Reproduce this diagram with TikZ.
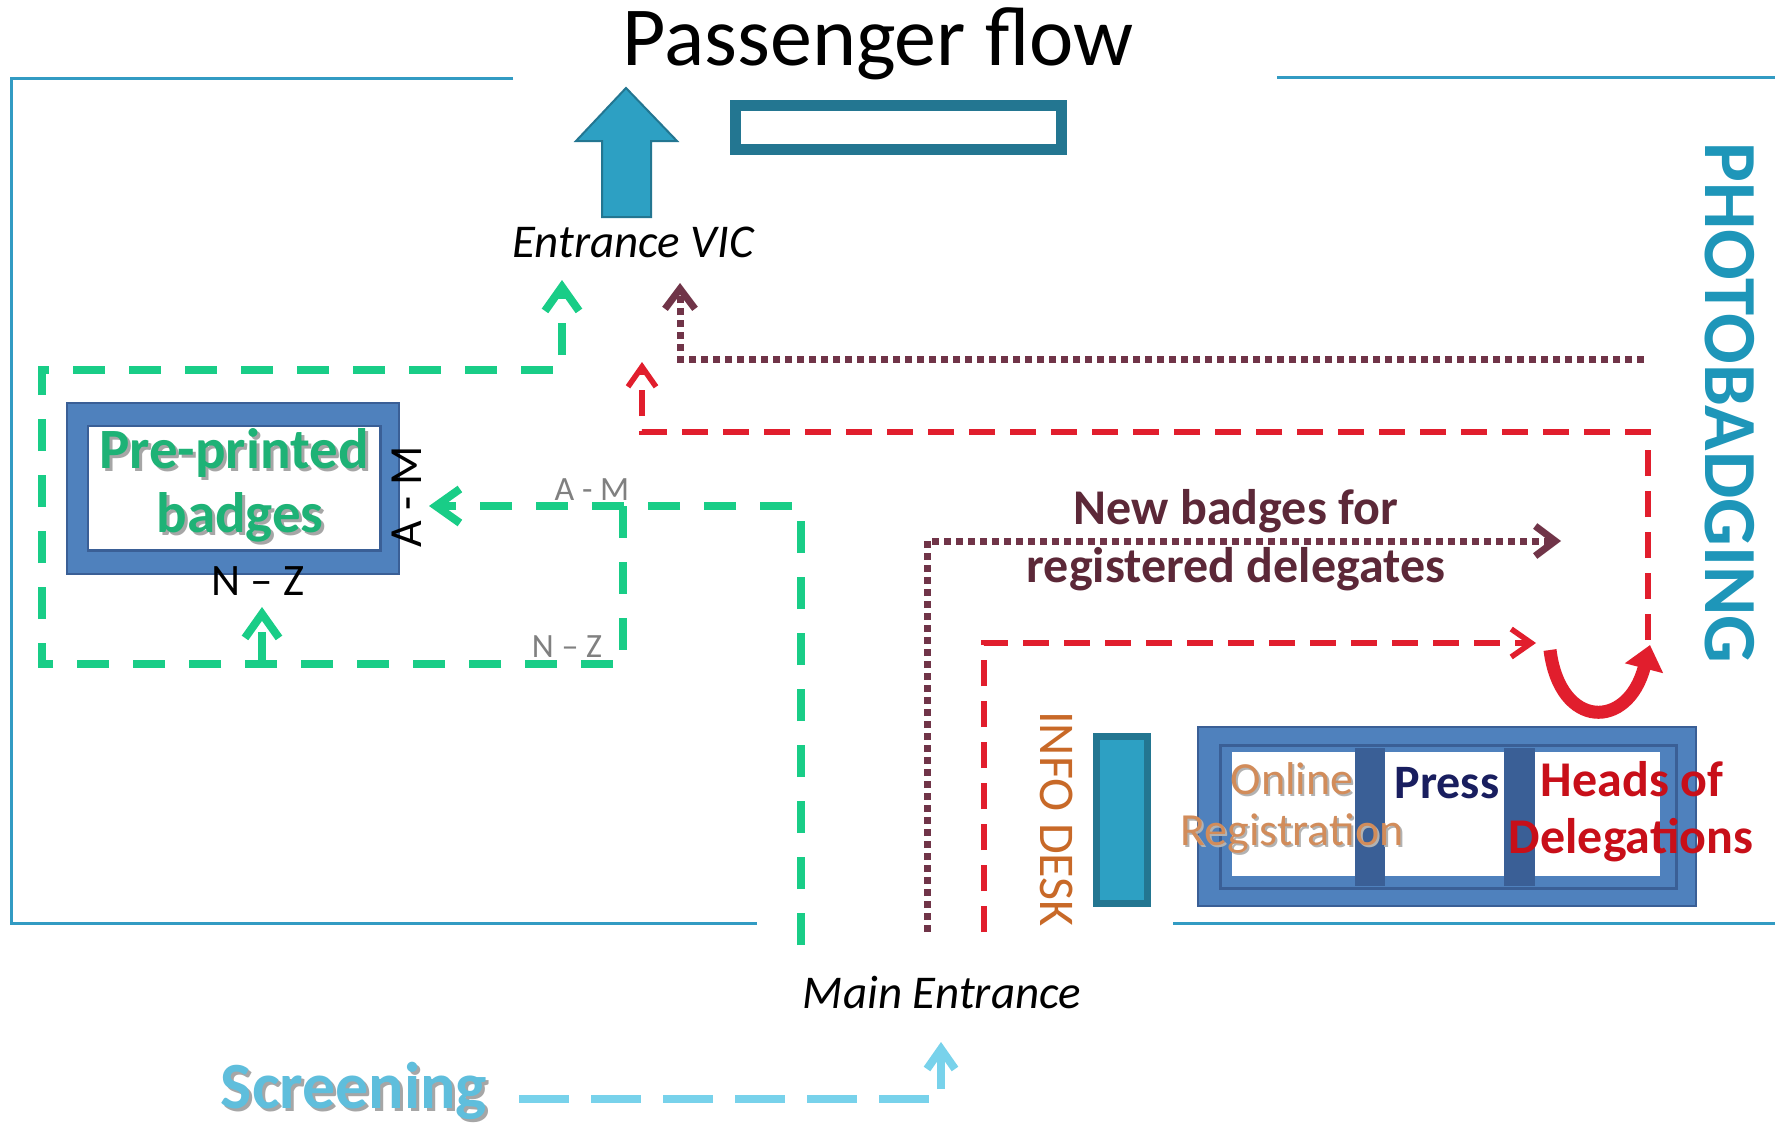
\documentclass[tikz,border=0pt]{standalone}
\usepackage{fontspec}
\setmainfont{Carlito}
\usetikzlibrary{arrows.meta}
\definecolor{wall}{RGB}{50,155,195}
\definecolor{grn}{RGB}{25,205,135}
\definecolor{grntxt}{RGB}{30,178,118}
\definecolor{maroon}{RGB}{112,52,72}
\definecolor{maroontxt}{RGB}{92,40,56}
\definecolor{redl}{RGB}{225,30,45}
\definecolor{lblue}{RGB}{120,210,235}
\definecolor{lbluetxt}{RGB}{95,190,220}
\definecolor{tealf}{RGB}{45,160,195}
\definecolor{teald}{RGB}{35,118,145}
\definecolor{boxb}{RGB}{79,129,189}
\definecolor{boxd}{RGB}{58,95,150}
\definecolor{orng}{RGB}{200,105,40}
\definecolor{tan}{RGB}{210,140,90}
\definecolor{navy}{RGB}{25,30,95}
\definecolor{hred}{RGB}{200,15,25}
\definecolor{photo}{RGB}{30,150,185}
\definecolor{graytxt}{RGB}{128,128,128}
\begin{document}
\begin{tikzpicture}[x=1pt,y=-1pt,
  wallline/.style={draw=wall,line width=3pt},
  grnpath/.style={draw=grn,line width=8pt,dash pattern=on 32pt off 24pt},
  grntip/.style={-{Straight Barb[length=24pt,width=34pt]}},
  mrnpath/.style={draw=maroon,line width=7pt,dash pattern=on 7pt off 5pt},
  mrntip/.style={-{Straight Barb[length=20pt,width=30pt]}},
  redpath/.style={draw=redl,line width=5.5pt,dash pattern=on 26pt off 15pt},
  redtip/.style={-{Straight Barb[length=20pt,width=28pt]}},
  blupath/.style={draw=lblue,line width=8pt,dash pattern=on 50pt off 22pt},
  txt/.style={inner sep=0pt,anchor=base},
  shadow/.style={inner sep=0pt,anchor=base,text=black!35}
]
\useasboundingbox (0,0) rectangle (1775,1124);
\fill[white] (0,0) rectangle (1775,1124);

% walls
\coordinate (w1) at (11,79);
\coordinate (w2) at (513,79);
\coordinate (w3) at (1277,78);
\coordinate (w4) at (1775,78);
\coordinate (w5) at (11,923);
\coordinate (w6) at (757,923);
\coordinate (w7) at (1173,923);
\coordinate (w8) at (1775,923);
\draw[wallline] (w2) -- (w1) -- (w5) -- (w6);
\draw[wallline] (w3) -- (w4);
\draw[wallline] (w7) -- (w8);

% title
\node[txt,font=\fontsize{84}{96}\selectfont] (title) at (878,66) {Passenger flow};

% big teal arrow
\draw[fill=tealf,draw=teald,line width=2pt] (602,217) -- (602,141) -- (576,141) -- (626,88) -- (677,141) -- (651,141) -- (651,217) -- cycle;
% teal rectangle
\draw[draw=teald,line width=11pt] (735.5,105.5) rectangle (1061.5,149.5);

\node[txt,font=\fontsize{47}{56}\selectfont\itshape] (vic) at (633,257) {Entrance VIC};
\node[txt,font=\fontsize{47}{56}\selectfont\itshape] (main) at (942,1008) {Main Entrance};

% pre-printed badges box
\draw[fill=boxb,draw=boxd,line width=2pt] (67,403) rectangle (399,574);
\draw[draw=boxd,line width=3pt] (88,426) rectangle (380,550);
\fill[white] (89,427) rectangle (379,549);
\node[shadow,font=\fontsize{57}{64}\selectfont\bfseries] at (237,471) {Pre-printed};
\node[txt,font=\fontsize{57}{64}\selectfont\bfseries,text=grntxt] (pre1) at (234,468) {Pre-printed};
\node[shadow,font=\fontsize{57}{64}\selectfont\bfseries] at (243,535) {badges};
\node[txt,font=\fontsize{57}{64}\selectfont\bfseries,text=grntxt] (pre2) at (240,532) {badges};
\node[inner sep=0pt,rotate=90,font=\fontsize{46}{56}\selectfont] (am) at (407,497) {A - M};
\node[txt,font=\fontsize{45}{54}\selectfont] (nz) at (258,595) {N – Z};
\node[txt,font=\fontsize{34}{40}\selectfont,text=graytxt] (am2) at (592,500) {A - M};
\node[txt,font=\fontsize{34}{40}\selectfont,text=graytxt] (nz2) at (567,657) {N – Z};

% green paths
\coordinate (gME) at (801,945);
\coordinate (gAM) at (429,506);
\coordinate (gBr) at (623,506);
\coordinate (gBL) at (42,664);
\coordinate (gTL) at (42,370);
\coordinate (gVIC) at (562,280);
\coordinate (gNZb) at (262,664);
\coordinate (gNZ) at (262,607);
\draw[grnpath,grntip] (gME) |- (gAM);
\draw[grnpath,grntip] (gBr) |- (gBL) -- (gTL) -| (gVIC);
\draw[grnpath,grntip] (gNZb) -- (gNZ);

% maroon dotted
\coordinate (mS) at (927,932);
\coordinate (mE) at (1561,541);
\coordinate (mR) at (1644,359);
\coordinate (mVIC) at (680,283);
\draw[mrnpath,mrntip] (mS) |- (mE);
\draw[mrnpath,mrntip] (mR) -| (mVIC);

% red dashed
\coordinate (rS) at (984,932);
\coordinate (rE) at (1536,643);
\coordinate (rU) at (1648,640);
\coordinate (rC) at (642,432);
\coordinate (rVIC) at (642,362);
\draw[redpath,redtip] (rS) |- (rE);
\draw[redpath,redtip] (rU) |- (rC) -- (rVIC);
% U-turn
\coordinate (uA) at (1550,650);
\coordinate (uB) at (1650,645);
\draw[draw=redl,line width=13pt,-{Triangle[length=24pt,width=38pt]}] (uA) .. controls (1560,730) and (1628,730) .. (uB);

\node[txt,font=\fontsize{50}{60}\selectfont\bfseries,text=maroontxt] (nb1) at (1236,524) {New badges for};
\node[txt,font=\fontsize{50}{60}\selectfont\bfseries,text=maroontxt] (nb2) at (1236,582) {registered delegates};

% info desk
\node[inner sep=0pt,rotate=-90,font=\fontsize{50}{60}\selectfont,text=orng] (info) at (1057,819) {INFO DESK};
\draw[fill=tealf,draw=teald,line width=7pt] (1096,736) rectangle (1147,903);

% registration box
\draw[fill=boxb,draw=boxd,line width=2pt] (1198,727) rectangle (1696,906);
\draw[draw=boxd,line width=3pt] (1220,745) rectangle (1676,888);
\fill[boxd] (1355,748) rectangle (1385,886);
\fill[boxd] (1504,748) rectangle (1535,886);
\fill[white] (1232,752) rectangle (1355,876);
\fill[white] (1385,752) rectangle (1504,876);
\fill[white] (1535,752) rectangle (1660,876);
\node[txt,font=\fontsize{46}{56}\selectfont,text=black!30] at (1294,796) {Online};
\node[txt,font=\fontsize{46}{56}\selectfont,text=tan] (onl) at (1292,794) {Online};
\node[txt,font=\fontsize{46}{56}\selectfont,text=black!30] at (1294,847) {Registration};
\node[txt,font=\fontsize{46}{56}\selectfont,text=tan] (reg) at (1292,845) {Registration};
\node[txt,font=\fontsize{48}{56}\selectfont\bfseries,text=navy] (press) at (1447,798) {Press};
\node[txt,font=\fontsize{50}{60}\selectfont\bfseries,text=hred] (heads) at (1632,796) {Heads of};
\node[txt,font=\fontsize{50}{60}\selectfont\bfseries,text=hred] (deleg) at (1631,853) {Delegations};

% photobadging
\node[inner sep=0pt,rotate=-90,font=\fontsize{75}{90}\selectfont\bfseries,text=photo] (photo) at (1730,403) {PHOTOBADGING};

% screening
\node[shadow,font=\fontsize{66}{76}\selectfont\bfseries] at (357,1111) {Screening};
\node[txt,font=\fontsize{66}{76}\selectfont\bfseries,text=lbluetxt] (scr) at (354,1108) {Screening};
\coordinate (sS) at (519,1099);
\coordinate (sE) at (941,1042);
\draw[blupath,-{Straight Barb[length=20pt,width=28pt]}] (sS) -| (sE);
\end{tikzpicture}
\end{document}
